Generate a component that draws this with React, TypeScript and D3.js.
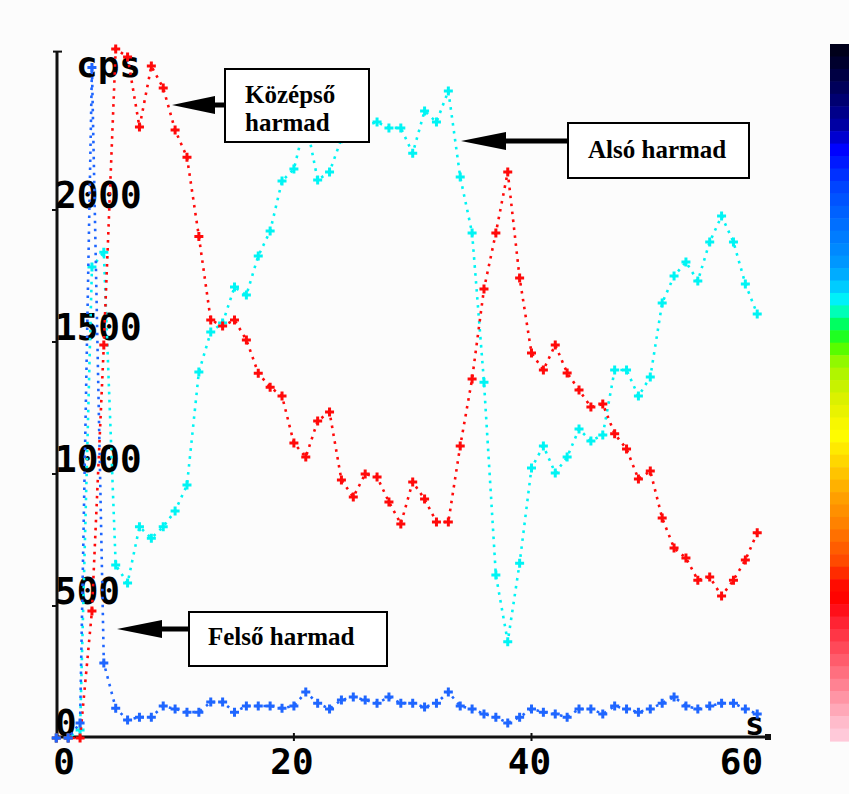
import React from "react";
import * as d3 from "d3";

// Count rate (cps) of the three thirds, sampled once per second
const seconds = d3.range(0, 60);

const felsoHarmad = [
  0, 0, 57, 2540, 284, 113, 68, 79, 79, 121,
  110, 98, 98, 136, 136, 98, 121, 121, 121, 113,
  121, 174, 132, 110, 144, 155, 144, 132, 155, 132,
  132, 117, 132, 174, 121, 110, 91, 79, 57, 79,
  110, 98, 91, 79, 110, 110, 91, 121, 110, 98,
  110, 132, 155, 121, 110, 121, 132, 132, 110, 91,
];

const kozepsoHarmad = [
  0, 0, 0, 481, 1489, 2610, 2580, 2314, 2545, 2462,
  2303, 2200, 1900, 1583, 1561, 1583, 1508, 1382, 1329, 1295,
  1117, 1064, 1201, 1235, 977, 913, 1000, 989, 894, 811,
  970, 905, 818, 818, 1106, 1360, 1701, 1913, 2144, 1742,
  1458, 1394, 1489, 1383, 1318, 1254, 1265, 1152, 1095, 981,
  1011, 833, 720, 682, 598, 610, 538, 598, 674, 777,
];

const alsoHarmad = [
  0, 0, 30, 1784, 1840, 655, 587, 800, 757, 800,
  860, 958, 1386, 1538, 1572, 1708, 1678, 1826, 1920, 2110,
  2155, 2340, 2114, 2144, 2270, 2300, 2320, 2333, 2311, 2311,
  2215, 2375, 2333, 2451, 2125, 1913, 1348, 617, 365, 662,
  1023, 1106, 1004, 1064, 1170, 1125, 1148, 1394, 1394, 1295,
  1367, 1648, 1750, 1803, 1731, 1879, 1977, 1879, 1720, 1606,
];

const xTicks = [0, 20, 40, 60];
const yTicks = [0, 500, 1000, 1500, 2000];

const seriesList = [
  { name: "Alsó harmad", values: alsoHarmad, color: "#00f4f4" },
  { name: "Középső harmad", values: kozepsoHarmad, color: "#ff0a0a" },
  { name: "Felső harmad", values: felsoHarmad, color: "#1f66ff" },
];

// Rainbow colour scale stops (fraction from top, colour)
const barStops: [number, string][] = [
  [0.0, "#000010"], [0.03, "#000030"], [0.08, "#000070"], [0.12, "#0000a8"],
  [0.15, "#0000ff"], [0.2, "#0040ff"], [0.26, "#0070ff"], [0.31, "#0094ff"],
  [0.34, "#00b8ff"], [0.36, "#00e8ff"], [0.375, "#00fff0"], [0.39, "#00ff90"],
  [0.41, "#00ff40"], [0.43, "#40ff00"], [0.46, "#a0f800"], [0.5, "#d4f000"],
  [0.54, "#f4f400"], [0.56, "#ffff00"], [0.59, "#ffe000"], [0.62, "#ffc000"],
  [0.65, "#ffa000"], [0.69, "#ff8000"], [0.72, "#ff6000"], [0.75, "#ff4000"],
  [0.77, "#ff1000"], [0.8, "#ff0000"], [0.82, "#ff1828"], [0.85, "#ff3848"],
  [0.88, "#ff5868"], [0.91, "#ff7888"], [0.94, "#ff98a8"], [0.97, "#ffb8c8"],
  [1.0, "#ffd0e0"],
];

const W = 849;
const H = 794;

const x = d3.scaleLinear().domain([0, 60]).range([56.3, 769.1]);
const y = d3.scaleLinear().domain([0, 2600]).range([738, 51.6]);

const monoFont = "'DejaVu Sans Mono', 'Liberation Mono', monospace";
const serifFont = "'Liberation Serif', 'DejaVu Serif', serif";

function Arrow({ tipX, tipY, baseX, endX }: { tipX: number; tipY: number; baseX: number; endX: number }) {
  return (
    <g>
      <rect x={baseX - 1} y={tipY - 2.5} width={endX - baseX + 1} height={5} fill="#000" />
      <path d={`M${tipX},${tipY}L${baseX},${tipY - 9}L${baseX},${tipY + 9}Z`} fill="#000" />
    </g>
  );
}

export default function App() {
  const line = d3
    .line<number>()
    .x((_, i) => x(seconds[i]))
    .y((d) => y(d));

  const colorAt = d3
    .scaleLinear<string>()
    .domain(barStops.map((s) => s[0]))
    .range(barStops.map((s) => s[1]))
    .interpolate(d3.interpolateRgb);

  const barTop = 44;
  const barBottom = 741;
  const bands = 56;
  const bandH = (barBottom - barTop) / bands;

  const axisColor = "#111";

  return (
    <svg
      width={W}
      height={H}
      viewBox={`0 0 ${W} ${H}`}
      style={{ position: "absolute", left: 0, top: 0, display: "block" }}
    >
      <rect x={0} y={0} width={W} height={H} fill="#fcfcfc" />

      {/* colour bar */}
      <g>
        {d3.range(bands).map((i) => (
          <rect
            key={i}
            x={830}
            y={barTop + i * bandH}
            width={20}
            height={bandH + 0.6}
            fill={colorAt((i + 0.5) / bands)}
          />
        ))}
      </g>

      {/* axes */}
      <line x1={57} y1={y(2600)} x2={57} y2={738} stroke={axisColor} strokeWidth={3} />
      <line x1={53} y1={y(2600)} x2={62} y2={y(2600)} stroke={axisColor} strokeWidth={2} />
      <line x1={55.5} y1={737} x2={768} y2={737} stroke={axisColor} strokeWidth={3} />
      <rect x={765} y={734} width={6} height={6} fill={axisColor} />
      {yTicks.map((t) => (
        <line key={t} x1={52} y1={y(t)} x2={57} y2={y(t)} stroke={axisColor} strokeWidth={2} />
      ))}
      {xTicks.slice(1, -1).map((t) => (
        <line key={t} x1={x(t)} y1={733} x2={x(t)} y2={741} stroke={axisColor} strokeWidth={2} />
      ))}

      {/* tick labels */}
      {yTicks.map((t) => (
        <text
          key={t}
          x={0}
          y={0}
          transform={`translate(55,${y(t) - 2}) scale(1,1.05)`}
          fontFamily={monoFont}
          fontWeight="bold"
          fontSize={36}
          fill="#000"
        >
          {t}
        </text>
      ))}
      {xTicks.map((t, i) => {
        const first = i === 0;
        const last = i === xTicks.length - 1;
        const px = first ? x(t) - 3 : last ? x(t) - 6 : x(t) - 2;
        return (
          <text
            key={t}
            x={px}
            y={774}
            textAnchor={first ? "start" : last ? "end" : "middle"}
            fontFamily={monoFont}
            fontWeight="bold"
            fontSize={36}
            fill="#000"
          >
            {t}
          </text>
        );
      })}
      <text x={76} y={77} fontFamily={monoFont} fontWeight="bold" fontSize={36} fill="#000">
        cps
      </text>
      <text x={745} y={735} fontFamily={monoFont} fontWeight="bold" fontSize={32} fill="#000">
        s
      </text>

      {/* series */}
      {seriesList.map((s) => (
        <g key={s.name}>
          <path
            d={line(s.values) || ""}
            fill="none"
            stroke={s.color}
            strokeWidth={2.6}
            strokeDasharray="2.6 5.4"
          />
          {s.values.map((v, i) => (
            <path
              key={i}
              d={`M${x(seconds[i]) - 4.5},${y(v)}h9M${x(seconds[i])},${y(v) - 4.5}v9`}
              stroke={s.color}
              strokeWidth={3}
              fill="none"
            />
          ))}
        </g>
      ))}

      {/* annotations */}
      <Arrow tipX={172} tipY={105} baseX={215} endX={225} />
      <rect x={225} y={69} width={144} height={73} fill="#fff" stroke="#000" strokeWidth={2} />
      <text x={245} y={103} fontFamily={serifFont} fontWeight="bold" fontSize={25} fill="#000">
        Középső
      </text>
      <text x={245} y={131} fontFamily={serifFont} fontWeight="bold" fontSize={25} fill="#000">
        harmad
      </text>

      <Arrow tipX={461} tipY={141} baseX={506} endX={568} />
      <rect x={568} y={123} width={181} height={55} fill="#fff" stroke="#000" strokeWidth={2} />
      <text x={588} y={158} fontFamily={serifFont} fontWeight="bold" fontSize={25} fill="#000">
        Alsó harmad
      </text>

      <Arrow tipX={117} tipY={629} baseX={162} endX={189} />
      <rect x={189} y={612} width={198} height={54} fill="#fff" stroke="#000" strokeWidth={2} />
      <text x={208} y={645} fontFamily={serifFont} fontWeight="bold" fontSize={25} fill="#000">
        Felső harmad
      </text>
    </svg>
  );
}
